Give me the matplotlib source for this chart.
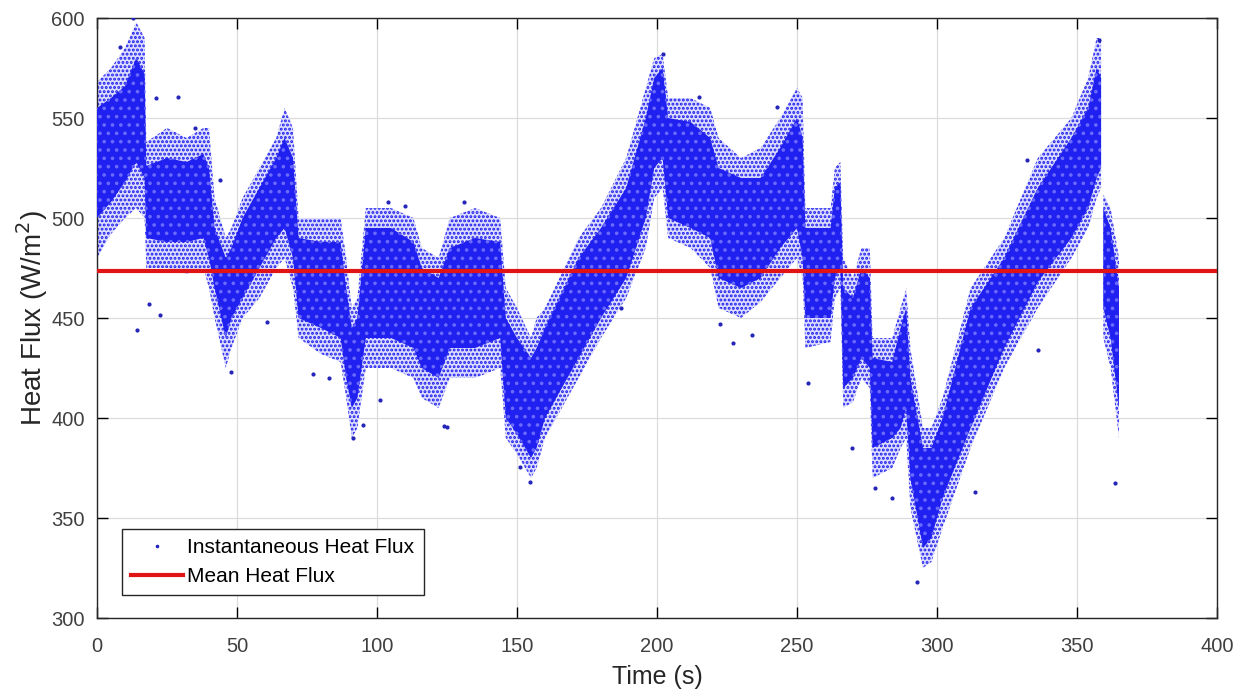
import numpy as np
import matplotlib

matplotlib.use("Agg")
import matplotlib.pyplot as plt

plt.rcParams["font.family"] = ["Liberation Sans", "DejaVu Sans"]

# ---------------------------------------------------------------------------
# Heat-flux cloud, as envelopes at irregular time knots.
# HI_OUT/LO_OUT = sparse outer edge of the point cloud, HI_CORE/LO_CORE = dense core.
# NaN marks the short gap before the last strip of samples.
# ---------------------------------------------------------------------------
T_KNOT = [0, 5, 10, 14, 17, 17.6, 25, 32, 38, 40, 42, 46, 48, 52, 58, 64, 67,
          70, 72, 80, 87, 89, 91, 93, 96, 105, 113, 116, 122, 126, 135, 144,
          146, 150, 155, 157, 160, 172, 180, 189, 196, 199, 202, 204, 212, 219,
          222, 230, 237, 244, 250, 252, 253, 262, 263.5, 265.5, 266.5, 270,
          273, 276, 277, 284, 287, 289, 290.5, 295, 298, 302, 312, 324, 336,
          348, 354, 357, 358.6, 359.0, 359.4, 362, 365]
HI_OUT = [568, 575, 585, 598, 590, 538, 545, 540, 545, 545, 510, 490, 495, 510,
          525, 540, 555, 545, 500, 500, 500, 480, 455, 460, 505, 505, 500, 485,
          480, 500, 505, 500, 465, 455, 440, 450, 455, 490, 505, 530, 565, 580,
          582, 560, 560, 555, 540, 530, 535, 550, 565, 560, 505, 505, 525, 528,
          480, 470, 485, 485, 440, 440, 455, 465, 435, 395, 395, 410, 465, 490,
          530, 550, 570, 590, 590, np.nan, 512, 505, 480]
HI_CORE = [555, 560, 566, 580, 572, 526, 530, 528, 532, 525, 495, 480, 485,
           500, 515, 530, 540, 530, 490, 488, 488, 465, 445, 450, 495, 495,
           488, 475, 470, 485, 490, 488, 450, 440, 430, 435, 445, 480, 495, 515,
           550, 570, 575, 550, 548, 540, 525, 520, 520, 535, 550, 540, 495, 495,
           515, 518, 465, 460, 475, 470, 430, 428, 445, 455, 420, 385, 385, 400,
           455, 480, 515, 540, 555, 575, 570, np.nan, 505, 495, 465]
LO_CORE = [500, 508, 518, 528, 520, 490, 488, 488, 490, 480, 465, 440, 450,
           460, 475, 490, 495, 480, 450, 445, 440, 420, 405, 410, 440, 440,
           435, 425, 420, 435, 435, 440, 400, 392, 380, 385, 400, 430, 450, 470,
           500, 525, 530, 500, 495, 490, 470, 465, 470, 485, 495, 480, 450, 450,
           470, 475, 415, 420, 430, 425, 385, 390, 395, 405, 370, 335, 340, 360,
           395, 435, 468, 490, 505, 520, 525, np.nan, 455, 440, 405]
LO_OUT = [480, 492, 500, 505, 500, 475, 475, 472, 475, 465, 450, 425, 435,
          450, 460, 475, 480, 465, 440, 432, 428, 410, 390, 395, 425, 425, 420,
          410, 405, 420, 420, 425, 390, 382, 370, 375, 390, 420, 440, 460, 485,
          510, 515, 490, 485, 475, 455, 450, 458, 470, 480, 470, 435, 438, 460,
          465, 405, 408, 420, 415, 370, 375, 385, 390, 355, 325, 328, 345, 385,
          425, 455, 480, 495, 510, 515, np.nan, 440, 425, 390]

# Stray samples lying outside the cloud envelope.
STRAY_T = [8.2, 14.2, 29, 22.5, 48, 35, 18.7, 44, 60.6, 104, 91.5, 95, 125,
           101, 77, 154.6, 151, 124, 202, 215, 227, 234, 243, 222.5, 254, 269.6,
           284, 293, 278, 363.6, 358, 336, 313.6, 332, 21, 13, 83, 110, 131, 187]
STRAY_V = [585.7, 444, 560.7, 451.5, 423, 545, 457, 519, 448, 508, 390, 396.5,
           395.5, 409, 422, 368, 375.5, 396, 582, 560.7, 437.5, 441.5, 555.7,
           447, 417.5, 385, 360, 318, 365, 367.5, 589, 434, 363, 529, 560, 600,
           420, 506, 508, 455]

MEAN_FLUX = 473.5

X_TICKS = list(range(0, 401, 50))
Y_TICKS = list(range(300, 601, 50))

BLUE = "#0000ff"
RED = "#e01414"

fig = plt.figure(figsize=(12.46, 6.96), dpi=100)
ax = fig.add_axes([97 / 1246, 1 - 618 / 696, 1120 / 1246, 600 / 696])

t = np.array(T_KNOT, dtype=float)
plt.rcParams["hatch.linewidth"] = 1.4
ax.fill_between(t, LO_OUT, HI_OUT, facecolor="#dcdcff", edgecolor="#1a1aee",
                hatch="....", linewidth=0, zorder=2)
ax.fill_between(t, LO_CORE, HI_CORE, facecolor="#2020f0", edgecolor="#6a6aff",
                hatch="..", linewidth=0, zorder=3)
ax.plot(STRAY_T, STRAY_V, ".", color="#2424b8", ms=4,
        label="Instantaneous Heat Flux", zorder=4)
ax.axhline(MEAN_FLUX, color=RED, lw=3, label="Mean Heat Flux", zorder=5)

ax.set_xlim(0, 400)
ax.set_ylim(300, 600)
ax.set_xticks(X_TICKS)
ax.set_yticks(Y_TICKS)
ax.grid(True, color="#dcdcdc", lw=0.9, zorder=0)
ax.set_axisbelow(True)
ax.tick_params(direction="in", length=8, width=1, top=True, right=True,
               labelsize=14.5, labelcolor="#404040")
ax.tick_params(axis="x", pad=14)
ax.tick_params(axis="y", pad=9)
for sp in ax.spines.values():
    sp.set_color("#262626")
    sp.set_linewidth(1)

ax.set_xlabel("Time (s)", fontsize=18, color="#262626", labelpad=6)
ax.set_ylabel("Heat Flux (W/m$^2$)", fontsize=20, color="#262626",
              labelpad=1)

leg = ax.legend(loc="lower left", bbox_to_anchor=(0.022, 0.038), fontsize=15,
                frameon=True, fancybox=False, framealpha=1, edgecolor="#262626",
                handlelength=2.5, handletextpad=0.2, labelspacing=0.45,
                borderpad=0.45, borderaxespad=0, markerscale=0.8)
leg.get_frame().set_linewidth(1)

fig.savefig("out.png", dpi=100)
